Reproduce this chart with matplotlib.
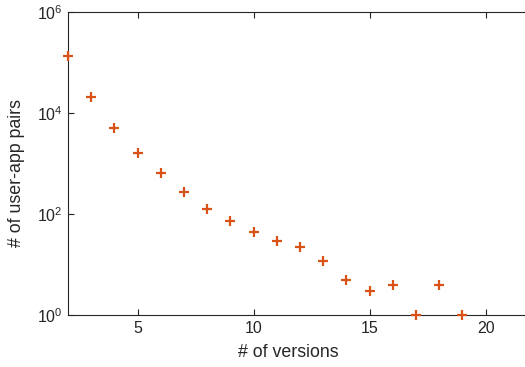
import numpy as np
import matplotlib.pyplot as plt
from matplotlib.ticker import FixedLocator, FixedFormatter

plt.rcParams['font.family'] = ['Liberation Sans', 'DejaVu Sans']
plt.rcParams['mathtext.fontset'] = 'custom'
plt.rcParams['mathtext.rm'] = 'Liberation Sans'
plt.rcParams['mathtext.it'] = 'Liberation Sans:italic'

versions = [2, 3, 4, 5, 6, 7, 8, 9, 10, 11, 12, 13, 14, 15, 16, 17, 18, 19]
pairs = [134000, 20500, 5100, 1600, 655, 275, 123, 72, 44, 29, 22, 12, 5, 3, 4, 1, 4, 1]

x_ticks = [5, 10, 15, 20]
y_ticks = [1, 1e2, 1e4, 1e6]
y_labels = [r'$\mathregular{10^{0}}$', r'$\mathregular{10^{2}}$',
            r'$\mathregular{10^{4}}$', r'$\mathregular{10^{6}}$']

axis_col = '#262626'

fig = plt.figure(figsize=(5.25, 3.67), dpi=100)
ax = fig.add_axes([68 / 525, 1 - 315 / 367, 464 / 525, 303 / 367])

ax.plot(versions, pairs, linestyle='none', marker='+', color='#D95319',
        markersize=7, markeredgewidth=1.6, clip_on=False, zorder=3)

ax.set_yscale('log')
ax.set_xlim(2, 22)
ax.set_ylim(1, 1e6)
ax.xaxis.set_major_locator(FixedLocator(x_ticks))
ax.yaxis.set_major_locator(FixedLocator(y_ticks))
ax.yaxis.set_major_formatter(FixedFormatter(y_labels))
ax.yaxis.set_minor_locator(FixedLocator([]))

ax.tick_params(direction='in', top=True, right=True, length=4, width=0.8,
               colors=axis_col, labelsize=11.5, pad=4)
for s in ax.spines.values():
    s.set_color(axis_col)
    s.set_linewidth(0.8)

ax.set_xlabel('# of versions', fontsize=12.8, color=axis_col)
ax.set_ylabel('# of user-app pairs', fontsize=12.8, color=axis_col)
ax.xaxis.set_label_coords(0.475, -0.095)
ax.yaxis.set_label_coords(-0.093, 0.467)

fig.savefig('out.png', dpi=100)
